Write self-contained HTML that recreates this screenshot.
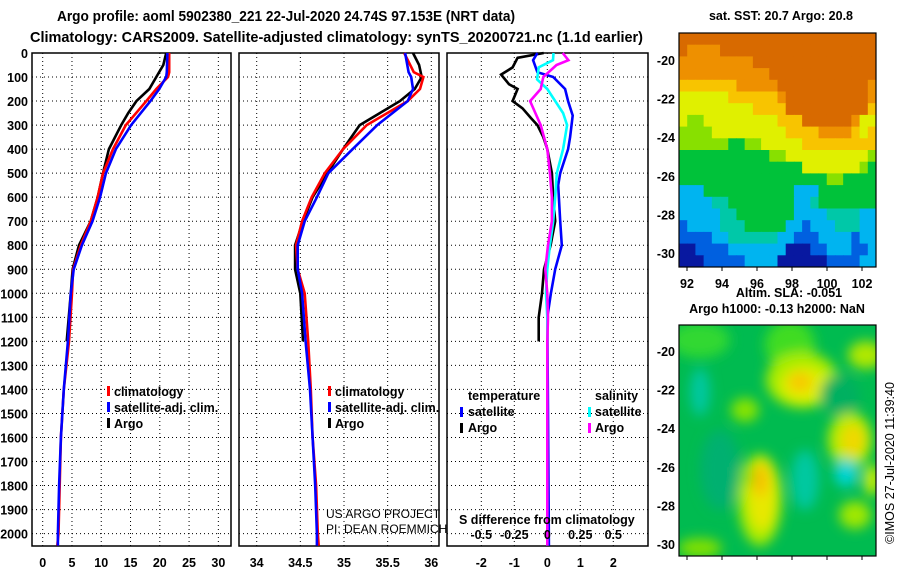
<!DOCTYPE html>
<html><head><meta charset="utf-8"><style>
html,body{margin:0;padding:0;background:#fff;}
svg{display:block;font-family:"Liberation Sans",sans-serif;}
.t{font-weight:bold;font-size:12.5px;fill:#000;}
</style></head><body>
<svg id="chart" width="900" height="580" viewBox="0 0 900 580" xmlns="http://www.w3.org/2000/svg">
<defs>
<clipPath id="m1c"><rect x="679" y="33" width="197" height="234"/></clipPath>
<clipPath id="m2c"><rect x="679" y="325" width="197" height="231"/></clipPath>
<filter id="bl" x="-20%" y="-20%" width="140%" height="140%"><feGaussianBlur stdDeviation="6"/></filter>
</defs>
<text x="57" y="21" font-size="15" font-weight="bold" textLength="458" lengthAdjust="spacingAndGlyphs">Argo profile: aoml 5902380_221 22-Jul-2020 24.74S 97.153E (NRT data)</text>
<text x="30" y="42" font-size="15" font-weight="bold" textLength="613" lengthAdjust="spacingAndGlyphs">Climatology: CARS2009. Satellite-adjusted climatology: synTS_20200721.nc (1.1d earlier)</text>
<g id="panels"></g>
<g id="maps"></g>
</svg>
<script>
// ---- data ----
const depthLabels = [0,100,200,300,400,500,600,700,800,900,1000,1100,1200,1300,1400,1500,1600,1700,1800,1900,2000];
const tempTicks = [0,5,10,15,20,25,30];
const salTicks = [34,34.5,35,35.5,36];
const diffTicks = [-2,-1,0,1,2];
const salDiffTicks = ["-0.5","-0.25","0","0.25","0.5"];
const salDiffTickVals = [-0.5,-0.25,0,0.25,0.5];

const argoTDepth = [0,50,100,150,200,250,300,400,500,600,700,800,900,1000,1200];
const argoT = [21.1,20.6,19.4,18.2,16.0,14.6,13.4,11.3,10.3,9.4,8.2,6.2,5.1,4.8,4.1];
const climDepth = [0,80,100,150,200,300,400,500,600,700,800,900,1000,1200,1400,1600,1800,2000,2050];
const climT = [21.6,21.6,21.4,19.4,17.7,14.2,12.0,10.3,9.4,8.2,6.5,5.2,5.0,4.5,3.6,3.1,2.9,2.7,2.5];
const satT = [21.3,21.2,21.1,19.9,18.4,15.1,12.5,10.8,9.8,8.5,6.7,5.3,4.8,4.3,3.6,3.1,2.8,2.6,2.6];

const argoS = [35.79,35.86,35.89,35.81,35.64,35.41,35.18,34.99,34.81,34.64,34.53,34.44,34.44,34.50,34.53];
const climS = [35.69,35.80,35.91,35.87,35.73,35.26,34.99,34.78,34.63,34.52,34.45,34.47,34.55,34.59,34.62,34.64,34.68,34.70,34.71];
const satS = [35.70,35.74,35.77,35.79,35.73,35.38,35.10,34.82,34.69,34.55,34.47,34.47,34.52,34.56,34.61,34.64,34.67,34.69,34.69];

const dTArgoDepth = [0,20,60,90,130,150,200,230,270,300,350,400,500,600,700,800,900,1000,1100,1200];
const dTArgo = [-0.11,-0.9,-1.05,-1.4,-1.16,-0.9,-1.05,-0.75,-0.5,-0.3,-0.12,0,0.14,0.18,0.24,0.1,-0.1,-0.16,-0.26,-0.26];
const dSatDepth = [0,30,80,100,150,200,260,350,400,500,550,700,800,900,1000,1100,1500,2050];
const dTSat = [-0.3,-0.43,-0.3,0.18,0.54,0.63,0.77,0.69,0.63,0.39,0.33,0.39,0.44,0.24,0.11,0,0.02,0.05];
const dSDepth = [0,30,60,110,150,200,250,300,400,500,600,700,800,900,1000,1100,2050];
const dSSat = [0.047,0.043,-0.065,-0.077,0,0.06,0.12,0.15,0.12,0.072,0.06,0.045,0.02,0,-0.01,0,0];
const dSArgoDepth = [0,30,50,100,150,200,250,300,400,500,600,700,800,900,1000,1100,1200,2050];
const dSArgo = [0.117,0.16,0.07,-0.03,-0.05,-0.13,-0.09,-0.05,0,0.02,0.035,0.035,0.005,-0.015,0,0.005,0,0];

const NS="http://www.w3.org/2000/svg";
function mk(tag, attrs, parent, txt){const e=document.createElementNS(NS,tag);for(const k in attrs)e.setAttribute(k,attrs[k]);if(txt!==undefined)e.textContent=txt;parent.appendChild(e);return e;}
const top0=53, bot=546;
const y = d => top0 + d*0.2403;
const panels = document.getElementById('panels');

function panel(name, x0, x1, xs, ticks, labelFmt){
  const g = mk('g',{},panels);
  
  
  ticks.forEach(v=>{
    const l=mk('line',{x1:xs(v),x2:xs(v),y1:top0,y2:bot,stroke:'#000','stroke-width':1,'stroke-dasharray':'1,3'},g);
    
    
    const t=mk('text',{x:xs(v),y:567,'text-anchor':'middle',class:'t'},g,labelFmt(v));
    
    
  });
  depthLabels.forEach(d=>{
    if(d===0) return;
    const l=mk('line',{x1:x0,x2:x1,y1:y(d),y2:y(d),stroke:'#000','stroke-width':1,'stroke-dasharray':'1,3'},g);
    
    
  });
  const r=mk('rect',{x:x0,y:top0,width:x1-x0,height:bot-top0,fill:'none',stroke:'#000','stroke-width':1.5},g);
  
  
  return g;
}
function series(g,name,depths,vals,xs,color,w){
  const pts=depths.map((d,i)=>xs(vals[i]).toFixed(1)+','+y(d).toFixed(1)).join(' ');
  const p=mk('polyline',{points:pts,fill:'none',stroke:color,'stroke-width':w||2.6,'stroke-linejoin':'miter'},g);
  
  
}
function txt(g,name,x,yy,s,attrs){const t=mk('text',Object.assign({x:x,y:yy,class:'t'},attrs||{}),g,s);return t;}
function sw(g,name,x,yy,color){const r=mk('rect',{x:x,y:yy,width:3,height:10,fill:color},g);}

const dl = mk('g',{},panels);


depthLabels.forEach(d=>{txt(dl,'y-tick-label',28,y(d)+5,String(d),{'text-anchor':'end'});});

const xT = v => 42.7 + v*5.855;
const g1 = panel('temperature-panel',32,231,xT,tempTicks,v=>String(v));
series(g1,'argo-temperature-line',argoTDepth,argoT,xT,'#000');
series(g1,'climatology-temperature-line',climDepth,climT,xT,'#f00');
series(g1,'satellite-temperature-line',climDepth,satT,xT,'#00f');
sw(g1,'legend-swatch-climatology',107,386,'#f00'); txt(g1,'legend-climatology',114,396,'climatology');
sw(g1,'legend-swatch-satellite',107,402,'#00f'); txt(g1,'legend-satellite-adj',114,412,'satellite-adj. clim.');
sw(g1,'legend-swatch-argo',107,418,'#000'); txt(g1,'legend-argo',114,428,'Argo');

const xS = v => 256.7 + (v-34)*87.3;
const g2 = panel('salinity-panel',239,439,xS,salTicks,v=>String(v));
series(g2,'argo-salinity-line',argoTDepth,argoS,xS,'#000');
series(g2,'climatology-salinity-line',climDepth,climS,xS,'#f00');
series(g2,'satellite-salinity-line',climDepth,satS,xS,'#00f');
sw(g2,'legend-swatch-climatology',328,386,'#f00'); txt(g2,'legend-climatology',335,396,'climatology');
sw(g2,'legend-swatch-satellite',328,402,'#00f'); txt(g2,'legend-satellite-adj',335,412,'satellite-adj. clim.');
sw(g2,'legend-swatch-argo',328,418,'#000'); txt(g2,'legend-argo',335,428,'Argo');
txt(g2,'credit-project',326,518,'US ARGO PROJECT',{style:'font-weight:normal;font-size:12px'});
txt(g2,'credit-pi',326,533,'PI: DEAN ROEMMICH',{style:'font-weight:normal;font-size:12px'});

const xD = v => 547.3 + v*33;
const xDS = v => 547.3 + v*132;
const g3 = panel('difference-panel',447,648,xD,diffTicks,v=>String(v));
series(g3,'argo-temperature-diff-line',dTArgoDepth,dTArgo,xD,'#000');
series(g3,'satellite-temperature-diff-line',dSatDepth,dTSat,xD,'#00f');
series(g3,'satellite-salinity-diff-line',dSDepth,dSSat,xDS,'#0ff');
series(g3,'argo-salinity-diff-line',dSArgoDepth,dSArgo,xDS,'#f0f');
txt(g3,'legend-temperature-header',468,400,'temperature');
sw(g3,'legend-swatch-temp-satellite',460,407,'#00f'); txt(g3,'legend-temp-satellite',468,416,'satellite');
sw(g3,'legend-swatch-temp-argo',460,423,'#000'); txt(g3,'legend-temp-argo',468,432,'Argo');
txt(g3,'legend-salinity-header',595,400,'salinity');
sw(g3,'legend-swatch-sal-satellite',588,407,'#0ff'); txt(g3,'legend-sal-satellite',595,416,'satellite');
sw(g3,'legend-swatch-sal-argo',588,423,'#f0f'); txt(g3,'legend-sal-argo',595,432,'Argo');
txt(g3,'salinity-diff-axis-title',459,524,'S difference from climatology');
salDiffTickVals.forEach((v,i)=>txt(g3,'salinity-diff-tick-label',xDS(v),539,salDiffTicks[i],{'text-anchor':'middle'}));

// ---- maps ----
const maps=document.getElementById('maps');
const pal={O:'#d86a00',o:'#ee9000',Y:'#f8c400',y:'#e0f000',L:'#88e000',G:'#00c23a',g:'#00b050',C:'#00c8a8',B:'#00b4f0',b:'#0060e0',N:'#0818a0'};
const sstRows=[
"OOOOOOOOOOOOOOOOOOOOOOOO",
"OooooOOOOOOOOOOOOOOOOOOO",
"oooooooooOOOOOOOOOOOOOOO",
"oooooooooooOOOOOOOOOOOOO",
"YYYYYYYoooooOOOOOOOOOOOo",
"yyyyyyYYYYYYoOOOOOOOOOOo",
"yyyyyyyyyYYYYOOOOOOOOOOY",
"yLLyyyyyyyyyYYYOOOOOOoyy",
"LLLLyyyyyyyyyYYYYooooYyY",
"LLLLLLGGLLyyyyyYYYYYYYYY",
"GGGGGGGGGGGLLyyyyyyyyyyL",
"GGGGGGGGGGGGGGGyyyyyyyLG",
"GGGGGGGGGGGGGGGGGGLLGGGG",
"BBBGGGGGGGGGGGBBBGGGGGGG",
"BBBBCCGGGGGGGGBBCGGGGGGG",
"BBBBBCCGGGGGGGBBBBCCCCBB",
"bBBBBCCCGGGGGBBbBBBCCCBB",
"bbbbBBCCCCCCBBbbbBBBBbBB",
"NNbbbbBBBBBBBNNNbbBBBbbB",
"NNNbbbbbBBBBNNNNNNbbbbBB"];
const m1=mk('g',{'clip-path':'url(#m1c)'},maps);


const cw=197/24, ch=234/20;
sstRows.forEach((row,r)=>{[...row].forEach((c,k)=>{mk('rect',{x:679+k*cw,y:33+r*ch,width:cw+0.6,height:ch+0.6,fill:pal[c]},m1);});});
const f1=mk('rect',{x:679,y:33,width:197,height:234,fill:'none',stroke:'#000','stroke-width':1.2},maps);


const latLabels=[-20,-22,-24,-26,-28,-30];
const lonLabels=[92,94,96,98,100,102];
const lat1=v=>60+(-20-v)*19.3, lat2=v=>351+(-20-v)*19.3, lon=v=>687+(v-92)*17.5;
latLabels.forEach(v=>{txt(maps,'sst-lat-label',675,lat1(v)+5,String(v),{'text-anchor':'end'});txt(maps,'sla-lat-label',675,lat2(v)+5,String(v),{'text-anchor':'end'});});
lonLabels.forEach(v=>{txt(maps,'sst-lon-label',lon(v),288,String(v),{'text-anchor':'middle'});
  mk('line',{x1:lon(v),x2:lon(v),y1:267,y2:271,stroke:'#000'},maps);mk('line',{x1:lon(v),x2:lon(v),y1:556,y2:560,stroke:'#000'},maps);});
txt(maps,'sst-map-title',781,20,'sat. SST: 20.7 Argo: 20.8',{'text-anchor':'middle'});
txt(maps,'sla-title',789,297,'Altim. SLA: -0.051',{'text-anchor':'middle'});
txt(maps,'sla-argo-title',777,313,'Argo h1000: -0.13 h2000: NaN',{'text-anchor':'middle'});

const m2=mk('g',{'clip-path':'url(#m2c)'},maps);


mk('rect',{x:679,y:325,width:197,height:231,fill:'#00bb50'},m2);
const bg=mk('g',{filter:'url(#bl)'},m2);
[[700,340,30,18,'#30d830'],[790,345,25,25,'#40dc20'],[802,380,36,28,'#a8ec00'],[805,385,24,18,'#e0f000'],[800,382,12,10,'#f8c800'],[850,440,22,28,'#b8ec00'],[853,440,12,16,'#f0d800'],[745,410,14,12,'#88e400'],[700,392,10,24,'#00c8a0'],[760,500,22,46,'#a8ec00'],[762,495,14,36,'#e8e800'],[760,480,8,16,'#f8c000'],[805,480,14,30,'#00c8a0'],[846,473,12,14,'#00d4d4'],[866,355,18,14,'#b0e800'],[855,515,16,14,'#a0e800'],[872,480,8,16,'#d0f000'],[700,548,22,10,'#80e000'],[742,477,12,10,'#80e000'],[720,470,20,40,'#00b070'],[840,395,20,20,'#00b060']].forEach(a=>{
  mk('ellipse',{cx:a[0],cy:a[1],rx:a[2],ry:a[3],fill:a[4]},bg);});
const f2=mk('rect',{x:679,y:325,width:197,height:231,fill:'none',stroke:'#000','stroke-width':1.2},maps);


txt(maps,'timestamp-label',0,0,'©IMOS 27-Jul-2020 11:39:40',{transform:'translate(894,463) rotate(-90)','text-anchor':'middle',style:'font-weight:normal;font-size:12.5px'});
</script>
</body></html>
